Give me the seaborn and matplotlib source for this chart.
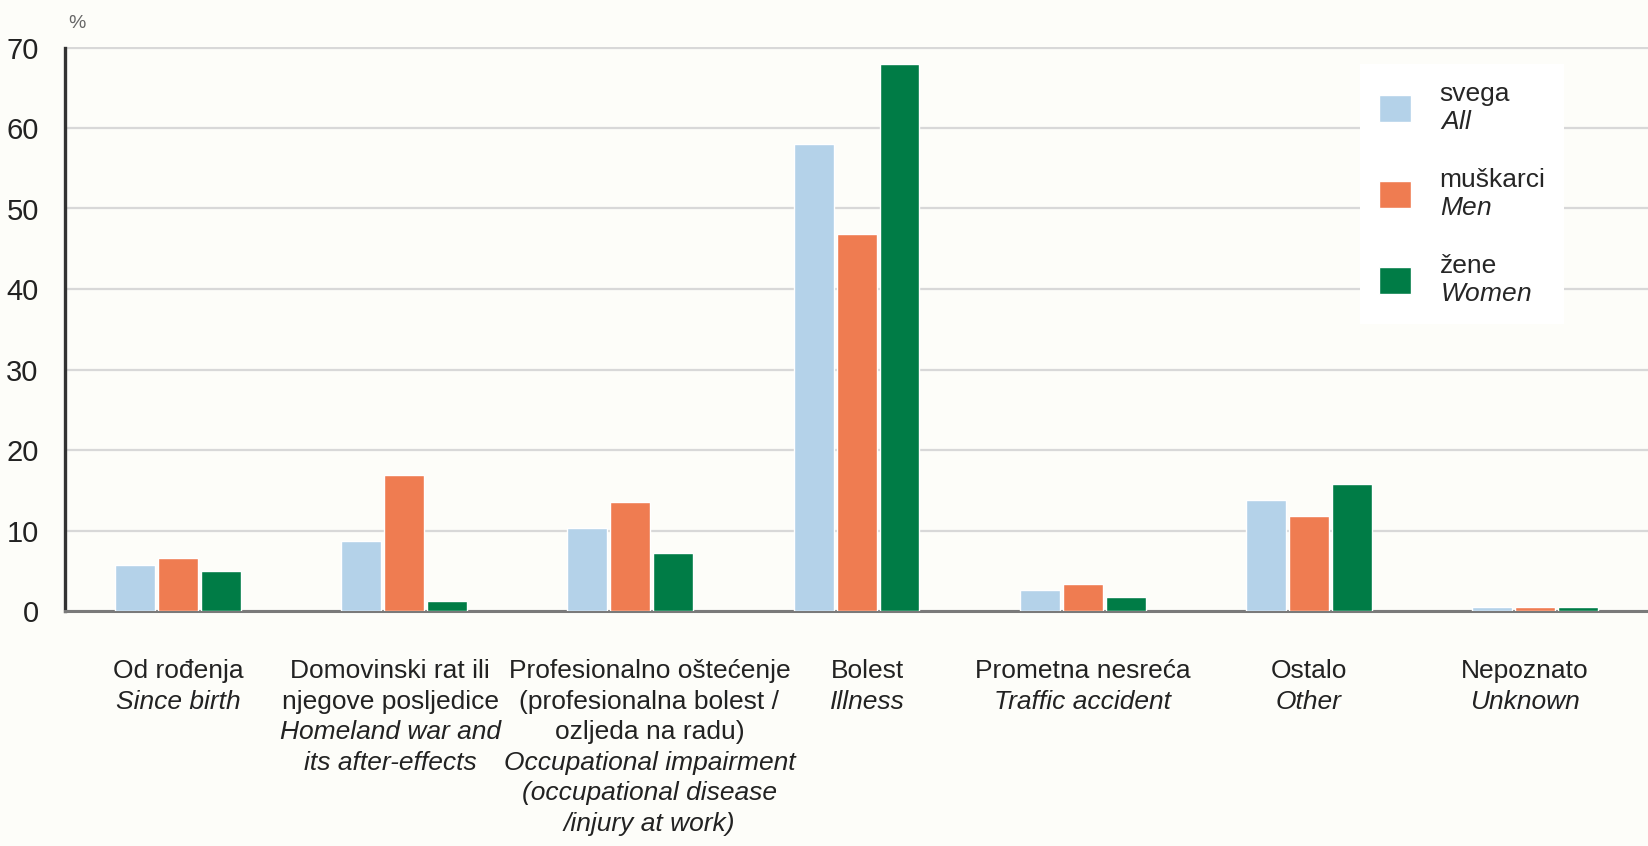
import numpy as np
import pandas as pd
import matplotlib
matplotlib.use('Agg')
import matplotlib.pyplot as plt
import seaborn as sns
from matplotlib import font_manager

# kategorije (hrvatski / engleski)
labels_hr = ['Od rođenja',
             'Domovinski rat ili\nnjegove posljedice',
             'Profesionalno oštećenje\n(profesionalna bolest /\nozljeda na radu)',
             'Bolest',
             'Prometna nesreća',
             'Ostalo',
             'Nepoznato']
labels_en = ['Since birth',
             'Homeland war and\nits after-effects',
             'Occupational impairment\n(occupational disease\n/injury at work)',
             'Illness',
             'Traffic accident',
             'Other',
             'Unknown']

# postoci
svega = [5.7, 8.7, 10.3, 58.0, 2.6, 13.8, 0.5]
muskarci = [6.6, 16.9, 13.6, 46.8, 3.4, 11.8, 0.5]
zene = [5.0, 1.2, 7.2, 68.0, 1.8, 15.8, 0.5]

series_hr = ['svega', 'muškarci', 'žene']
series_en = ['All', 'Men', 'Women']
colors = ['#b4d2e9', '#ef7c51', '#007c46']

yticks = [0, 10, 20, 30, 40, 50, 60, 70]

# labels in the original are not exactly centred under the bars (pixels)
label_shift = [0, -14, 19, 11, 0, 0, -10]

##long format for seaborn
df = pd.DataFrame({
    'kategorija': labels_hr * 3,
    'skupina': np.repeat(series_hr, len(labels_hr)),
    'postotak': svega + muskarci + zene,
})

names = {f.name for f in font_manager.fontManager.ttflist}
font = 'Liberation Sans Narrow' if 'Liberation Sans Narrow' in names else 'Liberation Sans'

sns.set_style('white')
plt.rcParams['font.family'] = [font, 'DejaVu Sans']
plt.rcParams['mathtext.fontset'] = 'custom'
plt.rcParams['mathtext.it'] = font + ':italic'
plt.rcParams['mathtext.rm'] = font

bg = '#fdfdf9'
fig = plt.figure(figsize=(16.48, 8.46), dpi=100, facecolor=bg)
ax = fig.add_axes([0.0395, 1 - 611 / 846, 1 - 0.0395, (611 - 47.5) / 846])
ax.set_facecolor(bg)

sns.barplot(data=df, x='kategorija', y='postotak', hue='skupina',
            order=labels_hr, hue_order=series_hr, palette=colors,
            saturation=1, width=0.57, gap=0.07, ax=ax, zorder=3)

ax.set_ylim(0, 70)
ax.set_xlim(-0.5, 6.5)
ax.set_yticks(yticks)
ax.yaxis.grid(True, color='#d8d8d8', linewidth=1.6, zorder=0)
ax.set_axisbelow(True)
ax.tick_params(axis='y', length=0, pad=19, labelsize=21, labelcolor='#222222')
ax.tick_params(axis='x', length=0, labelbottom=False)
ax.set_xlabel('')
ax.set_ylabel('')
for s in ['top', 'right']:
    ax.spines[s].set_visible(False)
ax.spines['left'].set_color('#333333')
ax.spines['left'].set_linewidth(2.4)
ax.spines['bottom'].set_color('#7a7a7a')
ax.spines['bottom'].set_linewidth(2.2)

# "%" unit above the axis
fig.text(68 / 1648, 1 - 24 / 846, '%', fontsize=14, color='#666666',
         ha='left', va='center')

# category labels: croatian upright, english italic
first, lh = 60, 30.5
for i, (hr, en) in enumerate(zip(labels_hr, labels_en)):
    lines = [(t, 'normal') for t in hr.split('\n')] + [(t, 'italic') for t in en.split('\n')]
    for j, (t, st) in enumerate(lines):
        ax.annotate(t, xy=(i, 0), xycoords=('data', 'axes fraction'),
                    xytext=(label_shift[i], -(first + j * lh)), textcoords='offset pixels',
                    ha='center', va='center', fontsize=19, fontstyle=st,
                    color='#222222')

handles, _ = ax.get_legend_handles_labels()
leg_labels = [hr + '\n$\\mathit{' + en + '}$' for hr, en in zip(series_hr, series_en)]
ax.legend(handles, leg_labels, loc='upper left', bbox_to_anchor=(0.81, 0.995),
          frameon=True, facecolor='white', edgecolor='none', framealpha=1,
          fancybox=False, fontsize=19, handlelength=1.2, handleheight=1.2,
          handletextpad=1.1, labelspacing=1.3, borderpad=0.7)

fig.savefig('out.png', dpi=100, facecolor=bg)
